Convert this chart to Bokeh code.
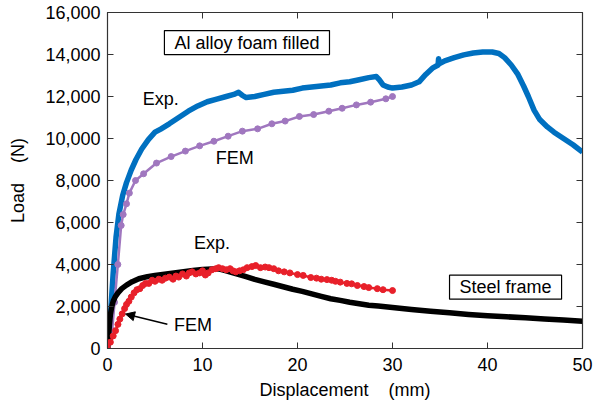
from bokeh.plotting import figure
from bokeh.models import (LinearAxis, Range1d, FixedTicker, NumeralTickFormatter,
                          Label, Arrow, NormalHead, CustomLabelingPolicy)
from bokeh.embed import file_html
from bokeh.resources import INLINE

# ---------------- data ----------------
x_ticks = [0, 10, 20, 30, 40, 50]
y_ticks = [0, 2000, 4000, 6000, 8000, 10000, 12000, 14000, 16000]

# Al alloy foam filled - experiment
al_exp_x = [0, 0.3, 0.6, 0.9, 1.2, 1.6, 2.0, 2.5, 3.0, 3.6, 4.3, 5.0, 5.6, 6.5, 7.5, 8.5,
            9.5, 10.5, 11.5, 12.5, 13.3, 13.8, 14.2, 14.6, 15.5, 16.5, 17.5, 18.5, 19.5,
            20.5, 21.5, 22.5, 23.5, 24.5, 25.5, 26.5, 27.5, 28.3, 28.6, 29.0, 29.5, 30.0,
            31.0, 32.0, 32.8, 33.5, 34.2, 34.8, 34.85, 34.9, 35.5, 36.5, 37.5, 38.5, 39.5,
            40.5, 41.2, 41.8, 42.5, 43.2, 43.8, 44.3, 44.9, 45.5, 46.3, 47.0, 48.0, 49.0, 50.0]
al_exp_y = [0, 1500, 3600, 5300, 6400, 7300, 7900, 8500, 9000, 9500, 9950, 10300, 10450,
            10700, 11000, 11300, 11550, 11750, 11880, 12000, 12100, 12200, 12050, 11950,
            12000, 12100, 12200, 12250, 12300, 12400, 12450, 12500, 12550, 12650, 12700,
            12800, 12900, 12950, 12800, 12550, 12450, 12400, 12450, 12550, 12700, 13050,
            13350, 13500, 13800, 13550, 13700, 13850, 13980, 14070, 14120, 14120, 14050,
            13850, 13500, 13050, 12500, 12000, 11350, 10900, 10550, 10300, 10000, 9700, 9350]

# Al alloy foam filled - FEM
al_fem_x = [0, 0.32, 0.49, 0.74, 1.09, 1.44, 1.65, 2.0, 2.3, 2.95, 3.8, 5.16, 6.7, 8.2, 9.7,
            11.2, 12.7, 14.2, 15.8, 17.3, 18.7, 20.2, 21.7, 23.3, 24.7, 26.2, 27.7, 29.3, 30.0]
al_fem_y = [0, 540, 860, 2200, 4000, 5860, 6380, 6890, 7400, 8000, 8320, 8830, 9140, 9400,
            9650, 9870, 10110, 10350, 10460, 10700, 10830, 11050, 11140, 11300, 11440, 11600,
            11730, 11890, 12000]

# Steel frame - experiment
st_exp_x = [0, 0.1, 0.2, 0.3, 0.45, 0.6, 0.8, 1.1, 1.5, 2.0, 2.6, 3.3, 4.2, 5.0, 6.0, 7.0,
            8.0, 9.0, 10.0, 11.0, 11.8, 12.5, 13.5, 14.5, 15.5, 16.5, 17.5, 18.5, 19.5, 20.5,
            21.5, 22.5, 23.5, 24.5, 25.5, 26.5, 27.5, 28.5, 30, 32, 34, 36, 38, 40, 42, 44,
            46, 48, 50]
st_exp_y = [0, 500, 1100, 1600, 2000, 2250, 2450, 2650, 2850, 3020, 3180, 3320, 3420, 3480,
            3540, 3600, 3650, 3710, 3760, 3790, 3780, 3700, 3560, 3430, 3290, 3170, 3060,
            2940, 2820, 2720, 2600, 2480, 2370, 2290, 2200, 2130, 2060, 2020, 1950, 1860,
            1770, 1700, 1620, 1560, 1510, 1460, 1410, 1360, 1300]

# Steel frame - FEM
st_fem_x = [0, 0.3, 0.6, 0.85, 1.1, 1.3, 1.55, 1.8, 2.0, 2.25, 2.5, 2.8, 3.1, 3.4, 3.7, 4.0,
            4.35, 4.7, 5.0, 5.4, 5.75, 6.1, 6.5, 6.9, 7.2, 7.5, 7.9, 8.3, 8.6, 8.9, 9.3, 9.7,
            10.0, 10.3, 10.6, 11.0, 11.4, 11.7, 12.1, 12.5, 12.9, 13.2, 13.5, 13.9, 14.3,
            14.7, 15.2, 15.6, 16.1, 16.6, 17.0, 17.5, 18.0, 18.6, 19.2, 20.0, 20.6, 21.4,
            22.0, 22.5, 23.1, 23.6, 24.0, 24.5, 25.2, 25.7, 26.3, 27.0, 27.5, 28.4, 29.0, 30.0]
st_fem_y = [0, 300, 600, 850, 1150, 1400, 1650, 1900, 2100, 2250, 2450, 2650, 2800, 2850,
            3000, 3100, 3100, 3250, 3200, 3300, 3250, 3350, 3400, 3300, 3450, 3400, 3550,
            3450, 3600, 3650, 3550, 3600, 3700, 3500, 3600, 3750, 3800, 3850, 3800, 3750,
            3800, 3700, 3650, 3700, 3750, 3850, 3900, 3950, 3850, 3880, 3850, 3800, 3700,
            3650, 3600, 3520, 3480, 3380, 3350, 3300, 3280, 3250, 3200, 3160, 3100, 3080,
            3000, 2950, 2900, 2850, 2800, 2760]

FONT = "Liberation Sans"
BLUE = "#0070C0"
PURPLE = "#A077BF"
RED = "#E8202A"

p = figure(width=606, height=407, output_backend="svg", toolbar_location=None,
           x_range=Range1d(0, 50), y_range=Range1d(0, 16000),
           min_border_left=107, min_border_right=24, min_border_top=12, min_border_bottom=59)
p.grid.visible = False
p.outline_line_color = "#333333"
p.outline_line_width = 1.2
p.background_fill_color = "white"
p.border_fill_color = "white"

no_labels = CustomLabelingPolicy(code="""
for (let i = 0; i < indices.size; i++) { indices.unset(i) }
return indices
""")

def style_axis(ax, labels=True):
    ax.major_tick_in = 6
    ax.major_tick_out = 0
    ax.minor_tick_in = 0
    ax.minor_tick_out = 0
    ax.axis_line_color = "#333333"
    ax.major_tick_line_color = "#333333"
    ax.major_label_text_font = FONT
    ax.major_label_text_color = "black"
    ax.axis_label_text_font = FONT
    ax.axis_label_text_font_style = "normal"
    ax.axis_label_text_color = "black"
    if not labels:
        ax.major_label_policy = no_labels
        ax.major_label_text_font_size = "0px"
        ax.major_label_standoff = 0

xa = p.xaxis[0]
xa.ticker = FixedTicker(ticks=x_ticks)
style_axis(xa)
xa.major_label_text_font_size = "18px"
xa.major_label_standoff = 9
xa.axis_label = "Displacement\u00a0\u00a0\u00a0\u00a0(mm)"
xa.axis_label_text_font_size = "18px"
xa.axis_label_standoff = 6

ya = p.yaxis[0]
ya.ticker = FixedTicker(ticks=y_ticks)
ya.formatter = NumeralTickFormatter(format="0,0")
style_axis(ya)
ya.major_label_text_font_size = "18px"
ya.major_label_standoff = 7
ya.axis_label = "Load\u00a0\u00a0\u00a0\u00a0(N)"
ya.axis_label_text_font_size = "18px"
ya.axis_label_standoff = 14

top = LinearAxis(ticker=FixedTicker(ticks=x_ticks))
style_axis(top, labels=False)
p.add_layout(top, "above")
right = LinearAxis(ticker=FixedTicker(ticks=y_ticks))
style_axis(right, labels=False)
p.add_layout(right, "right")

# curves
p.line(al_exp_x, al_exp_y, line_color=BLUE, line_width=5.5, line_join="round")
p.line(al_fem_x, al_fem_y, line_color=PURPLE, line_width=2.5)
p.scatter(al_fem_x, al_fem_y, size=6, fill_color=PURPLE, line_color=PURPLE)
p.line(st_exp_x, st_exp_y, line_color="black", line_width=5.5, line_join="round")
p.line(st_fem_x, st_fem_y, line_color=RED, line_width=2.5)
p.scatter(st_fem_x, st_fem_y, size=6, fill_color=RED, line_color=RED)

def txt(x, y, s):
    p.add_layout(Label(x=x, y=y, text=s, text_font=FONT, text_font_size="18px",
                       text_align="center", text_baseline="middle", text_color="black"))

txt(5.6, 11900, "Exp.")
txt(13.4, 9050, "FEM")
txt(11.0, 5020, "Exp.")
txt(9.0, 1100, "FEM")

p.add_layout(Arrow(x_start=6.3, y_start=1150, x_end=1.9, y_end=1640,
                   line_color="black", line_width=1.5,
                   end=NormalHead(size=9, fill_color="black", line_color="black")))

for (bx, by, s) in [(14.68, 14570, "Al alloy foam filled"), (41.9, 2920, "Steel frame")]:
    p.add_layout(Label(x=bx, y=by, text=s, text_font=FONT, text_font_size="18px",
                       text_align="center", text_baseline="middle", text_color="black",
                       border_line_color="black", border_line_width=1.2,
                       background_fill_color="white", padding=(10, 2)))

open("out.html", "w").write(file_html(p, INLINE))
